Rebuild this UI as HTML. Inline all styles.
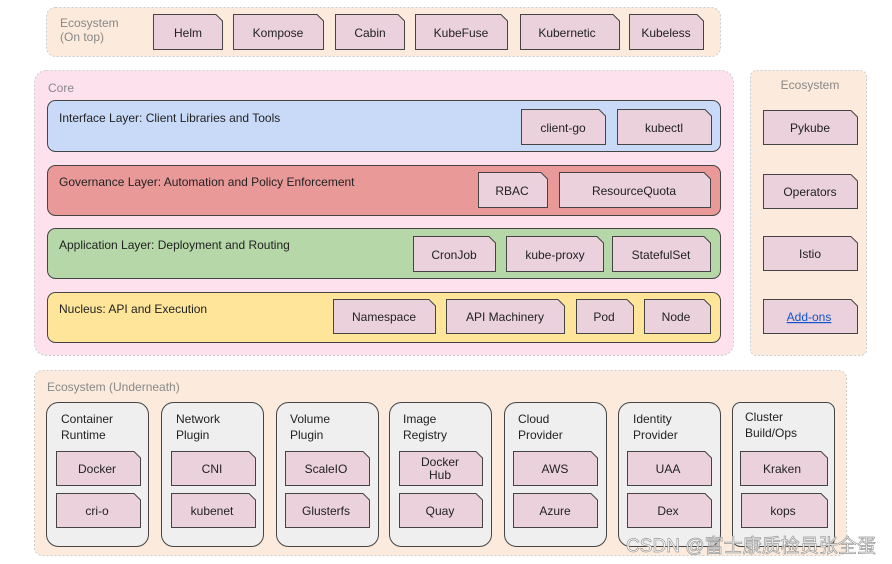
<!DOCTYPE html>
<html><head><meta charset="utf-8"><style>
html,body{margin:0;padding:0;background:#fff;width:892px;height:564px;overflow:hidden}
svg{display:block}
text{font-family:"Liberation Sans",Arial,sans-serif;font-size:12px;fill:#222}
.c{text-anchor:middle}
.n{fill:#ead1dc;stroke:#444;stroke-width:1}
.g{fill:#888}
</style></head><body>
<svg width="892" height="564" viewBox="0 0 892 564">
<!-- top ecosystem -->
<rect x="46.5" y="7.5" width="674" height="49" rx="9" fill="#fcebdc" stroke="#ccc" stroke-dasharray="2 2"/>
<text x="60" y="27" class="g">Ecosystem</text><text x="60" y="41" class="g">(On top)</text>
<path class="n" d="M153.5 14.5H216L222.5 21V49.5H153.5Z"/><text x="188" y="37" class="c">Helm</text>
<path class="n" d="M233.5 14.5H317L323.5 21V49.5H233.5Z"/><text x="278" y="37" class="c">Kompose</text>
<path class="n" d="M335.5 14.5H398L404.5 21V49.5H335.5Z"/><text x="370" y="37" class="c">Cabin</text>
<path class="n" d="M415.5 14.5H501L507.5 21V49.5H415.5Z"/><text x="461" y="37" class="c">KubeFuse</text>
<path class="n" d="M520.5 14.5H613L619.5 21V49.5H520.5Z"/><text x="567" y="37" class="c">Kubernetic</text>
<path class="n" d="M629.5 14.5H697L703.5 21V49.5H629.5Z"/><text x="666" y="37" class="c">Kubeless</text>

<!-- core -->
<rect x="34.5" y="70.5" width="699" height="285" rx="12" fill="#fde1ec" stroke="#ccc" stroke-dasharray="2 2"/>
<text x="48" y="92" class="g">Core</text>
<rect x="47.5" y="100.5" width="673" height="51" rx="8" fill="#c9daf8" stroke="#444"/>
<text x="59" y="122">Interface Layer: Client Libraries and Tools</text>
<path class="n" d="M521.5 109.5H599L605.5 116V144.5H521.5Z"/><text x="563" y="132" class="c">client-go</text>
<path class="n" d="M617.5 109.5H705L711.5 116V144.5H617.5Z"/><text x="664" y="132" class="c">kubectl</text>

<rect x="47.5" y="165.5" width="673" height="50" rx="8" fill="#ea9999" stroke="#444"/>
<text x="59" y="186">Governance Layer: Automation and Policy Enforcement</text>
<path class="n" d="M478.5 172.5H541L547.5 179V207.5H478.5Z"/><text x="512" y="195" class="c">RBAC</text>
<path class="n" d="M559.5 172.5H704L710.5 179V207.5H559.5Z"/><text x="634" y="195" class="c">ResourceQuota</text>

<rect x="47.5" y="228.5" width="673" height="50" rx="8" fill="#b6d7a8" stroke="#444"/>
<text x="59" y="249">Application Layer: Deployment and Routing</text>
<path class="n" d="M413.5 236.5H489L495.5 243V271.5H413.5Z"/><text x="454" y="259" class="c">CronJob</text>
<path class="n" d="M506.5 236.5H597L603.5 243V271.5H506.5Z"/><text x="555" y="259" class="c">kube-proxy</text>
<path class="n" d="M612.5 236.5H704L710.5 243V271.5H612.5Z"/><text x="661" y="259" class="c">StatefulSet</text>

<rect x="47.5" y="292.5" width="673" height="50" rx="8" fill="#ffe599" stroke="#444"/>
<text x="59" y="313">Nucleus: API and Execution</text>
<path class="n" d="M333.5 299.5H429L435.5 306V333.5H333.5Z"/><text x="384" y="321" class="c">Namespace</text>
<path class="n" d="M446.5 299.5H558L564.5 306V333.5H446.5Z"/><text x="505" y="321" class="c">API Machinery</text>
<path class="n" d="M576.5 299.5H627L633.5 306V333.5H576.5Z"/><text x="604" y="321" class="c">Pod</text>
<path class="n" d="M644.5 299.5H704L710.5 306V333.5H644.5Z"/><text x="676" y="321" class="c">Node</text>

<!-- right ecosystem -->
<rect x="750.5" y="70.5" width="116" height="285" rx="6" fill="#fcebdc" stroke="#ccc" stroke-dasharray="2 2"/>
<text x="810" y="89" class="c g">Ecosystem</text>
<path class="n" d="M763.5 110.5H851L857.5 117V144.5H763.5Z"/><text x="810" y="132" class="c">Pykube</text>
<path class="n" d="M763.5 174.5H851L857.5 181V208.5H763.5Z"/><text x="810" y="196" class="c">Operators</text>
<path class="n" d="M763.5 236.5H851L857.5 243V270.5H763.5Z"/><text x="810" y="258" class="c">Istio</text>
<path class="n" d="M763.5 299.5H851L857.5 306V333.5H763.5Z"/><text x="809" y="321" class="c" style="fill:#1155cc;text-decoration:underline">Add-ons</text>

<!-- underneath -->
<rect x="34.5" y="370.5" width="812" height="185" rx="8" fill="#fcebdc" stroke="#ccc" stroke-dasharray="2 2"/>
<text x="47" y="391" class="g">Ecosystem (Underneath)</text>

<rect x="46.5" y="402.5" width="102" height="144" rx="12" fill="#efefef" stroke="#444"/>
<text x="61" y="423">Container</text><text x="61" y="439">Runtime</text>
<path class="n" d="M56.5 451.5H134L140.5 458V485.5H56.5Z"/><text x="97" y="473" class="c">Docker</text>
<path class="n" d="M56.5 493.5H134L140.5 500V527.5H56.5Z"/><text x="97" y="515" class="c">cri-o</text>

<rect x="161.5" y="402.5" width="102" height="144" rx="12" fill="#efefef" stroke="#444"/>
<text x="176" y="423">Network</text><text x="176" y="439">Plugin</text>
<path class="n" d="M171.5 451.5H249L255.5 458V485.5H171.5Z"/><text x="212" y="473" class="c">CNI</text>
<path class="n" d="M171.5 493.5H249L255.5 500V527.5H171.5Z"/><text x="212" y="515" class="c">kubenet</text>

<rect x="276.5" y="402.5" width="102" height="144" rx="12" fill="#efefef" stroke="#444"/>
<text x="290" y="423">Volume</text><text x="290" y="439">Plugin</text>
<path class="n" d="M285.5 451.5H363L369.5 458V485.5H285.5Z"/><text x="326" y="473" class="c">ScaleIO</text>
<path class="n" d="M285.5 493.5H363L369.5 500V527.5H285.5Z"/><text x="326" y="515" class="c">Glusterfs</text>

<rect x="389.5" y="402.5" width="102" height="144" rx="12" fill="#efefef" stroke="#444"/>
<text x="403" y="423">Image</text><text x="403" y="439">Registry</text>
<path class="n" d="M399.5 451.5H476L482.5 458V485.5H399.5Z"/><text x="440" y="466" class="c">Docker</text><text x="440" y="479" class="c">Hub</text>
<path class="n" d="M399.5 493.5H476L482.5 500V527.5H399.5Z"/><text x="440" y="515" class="c">Quay</text>

<rect x="504.5" y="402.5" width="102" height="144" rx="12" fill="#efefef" stroke="#444"/>
<text x="518" y="423">Cloud</text><text x="518" y="439">Provider</text>
<path class="n" d="M513.5 451.5H591L597.5 458V485.5H513.5Z"/><text x="555" y="473" class="c">AWS</text>
<path class="n" d="M513.5 493.5H591L597.5 500V527.5H513.5Z"/><text x="555" y="515" class="c">Azure</text>

<rect x="618.5" y="402.5" width="102" height="144" rx="12" fill="#efefef" stroke="#444"/>
<text x="633" y="423">Identity</text><text x="633" y="439">Provider</text>
<path class="n" d="M627.5 451.5H705L711.5 458V485.5H627.5Z"/><text x="668" y="473" class="c">UAA</text>
<path class="n" d="M627.5 493.5H705L711.5 500V527.5H627.5Z"/><text x="668" y="515" class="c">Dex</text>

<rect x="732.5" y="402.5" width="102" height="144" rx="8" fill="#efefef" stroke="#444"/>
<text x="745" y="421">Cluster</text><text x="745" y="437">Build/Ops</text>
<path class="n" d="M740.5 451.5H821L827.5 458V485.5H740.5Z"/><text x="782" y="473" class="c">Kraken</text>
<path class="n" d="M741.5 493.5H821L827.5 500V527.5H741.5Z"/><text x="783" y="515" class="c">kops</text>

<text x="626" y="552" textLength="250" lengthAdjust="spacingAndGlyphs" style="font-family:'Liberation Sans','Noto Sans CJK SC',sans-serif;font-size:19px;fill:#fff;stroke:#999;stroke-width:0.7">CSDN @富士康质检员张全蛋</text>
</svg>
</body></html>
